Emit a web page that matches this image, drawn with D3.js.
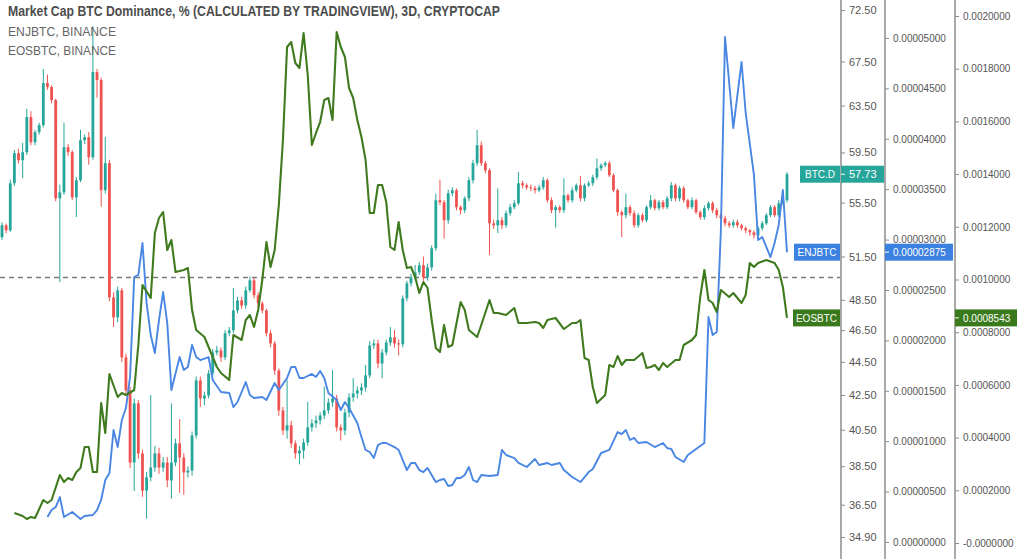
<!DOCTYPE html>
<html><head><meta charset="utf-8">
<script src="https://cdn.jsdelivr.net/npm/d3@7"></script>
<style>html,body{margin:0;padding:0;background:#fff;} svg{display:block;}</style>
</head><body><svg id="c" width="1024" height="559"></svg>
<script>
// ---------- DATA ----------
const titleText = "Market Cap BTC Dominance, % (CALCULATED BY TRADINGVIEW), 3D, CRYPTOCAP";
const legendTexts = ["ENJBTC, BINANCE", "EOSBTC, BINANCE"];

// BTC.D 3D candles (open of each candle = previous close)
const btcOpen0 = 52.9;
const btcClose = [
53.78,53.41,57.01,59.44,58.86,59.52,62.49,60.35,61.20,61.80,
65.51,65.15,63.98,55.83,56.30,59.94,59.52,55.91,57.25,60.52,
60.77,59.11,66.52,65.79,56.46,58.62,48.66,47.33,49.14,44.78,
42.77,38.70,42.01,39.19,37.22,37.91,38.43,39.19,38.43,38.70,
37.75,38.70,39.74,38.97,38.17,38.27,40.18,43.37,42.30,42.47,
43.79,45.08,45.21,44.78,46.30,46.49,47.79,48.46,48.12,49.14,
49.83,48.80,48.26,47.79,46.30,45.65,43.97,41.60,40.46,40.75,
39.74,39.19,39.35,39.79,40.63,40.86,41.03,41.31,41.60,42.06,
42.30,40.63,40.46,41.48,42.36,42.59,42.77,42.95,43.67,45.52,
45.65,44.40,45.08,45.71,46.04,45.65,45.60,48.60,49.62,50.03,
50.38,50.88,50.03,50.73,52.09,55.68,55.53,54.16,56.22,56.46,
55.15,54.92,55.83,57.25,58.62,60.10,58.62,58.05,53.93,53.78,
54.16,53.78,54.69,55.15,55.45,57.01,56.85,56.69,56.62,56.46,
56.69,57.25,55.68,54.92,55.15,54.92,56.07,55.68,56.46,56.85,
55.83,56.85,57.01,57.49,58.21,58.46,58.62,57.65,56.46,54.77,
54.54,55.15,54.69,53.78,54.54,54.16,55.15,55.68,55.07,55.53,
55.15,55.83,56.85,55.83,56.62,55.68,55.15,55.68,54.77,54.39,
55.07,55.45,54.92,54.54,54.31,53.93,53.78,54.01,53.78,53.56,
53.41,53.26,53.04,53.56,53.93,54.54,55.15,54.54,55.45,55.68,
57.73];
const btcHigh = [
54.0,53.9,57.3,59.7,59.8,60.3,63.2,63.0,61.4,62.0,
66.8,66.3,65.3,64.1,56.9,62.0,60.2,59.7,57.5,61.4,
61.0,61.2,70.9,66.8,66.0,60.8,58.9,49.0,49.4,49.3,
45.0,43.0,42.3,42.2,39.4,38.2,42.5,39.6,39.5,39.0,
39.0,42.0,40.0,41.1,39.2,38.5,40.4,43.6,43.6,42.7,
44.0,45.3,45.5,45.4,46.5,46.7,49.3,48.7,48.7,49.4,
50.1,50.0,49.0,48.4,47.9,46.5,45.8,44.1,41.8,43.4,
41.0,39.9,39.6,40.0,42.1,41.1,41.3,41.5,43.0,42.3,
44.0,42.5,40.8,41.7,42.6,43.5,43.0,43.2,44.3,45.8,
45.9,45.9,45.3,45.9,46.7,46.5,45.9,48.8,49.8,50.3,
50.9,51.1,51.5,51.0,52.3,56.2,57.3,55.7,56.5,56.7,
56.6,55.3,56.0,57.5,58.9,61.4,60.4,58.8,58.2,54.2,
56.6,54.4,54.9,55.4,55.7,57.9,57.2,57.0,56.9,56.8,
56.9,57.5,57.4,55.9,55.3,55.3,57.4,56.2,56.7,57.0,
57.6,57.0,57.2,57.7,59.0,58.6,58.8,58.8,57.8,56.6,
54.9,56.2,55.3,54.9,54.7,54.7,55.3,56.1,55.8,55.7,
55.7,56.0,57.1,57.0,56.8,56.8,55.8,55.9,55.8,54.9,
55.3,55.6,55.6,55.1,54.7,54.5,54.1,54.2,54.2,53.9,
53.7,53.5,53.4,53.7,54.1,54.7,55.3,55.3,55.7,56.0,
57.9];
const btcLow = [
52.7,53.2,53.3,56.8,58.6,57.4,59.3,60.1,60.1,61.0,
61.6,64.9,63.7,55.6,49.7,56.1,59.2,55.7,54.4,57.1,
60.2,58.5,58.9,64.2,55.2,56.2,48.4,46.7,47.0,44.5,
42.5,38.4,37.2,38.9,36.9,35.8,37.7,38.2,38.1,38.2,
37.4,36.8,38.5,37.1,37.0,37.9,38.0,40.0,41.8,41.9,
42.3,43.6,44.9,44.5,44.6,46.1,46.3,47.6,47.9,47.9,
49.0,48.6,48.0,47.6,46.1,45.4,43.7,41.3,40.2,40.0,
39.5,38.9,38.6,38.9,39.6,40.4,40.6,40.8,41.1,41.4,
41.8,40.4,39.9,40.2,41.2,42.1,42.3,42.5,42.7,43.5,
45.3,44.1,43.5,44.9,45.5,45.4,44.9,45.4,48.4,49.4,
49.8,50.2,49.8,49.8,50.5,51.9,55.3,52.8,53.9,56.0,
54.9,54.6,54.7,55.6,57.0,58.4,58.4,57.8,51.6,53.5,
53.2,53.5,53.6,54.5,55.0,55.3,56.6,56.5,56.4,56.2,
56.3,56.5,55.5,54.7,53.6,54.7,54.7,55.5,55.5,56.3,
55.6,55.6,56.7,56.8,57.3,58.0,58.3,57.5,56.3,54.5,
52.9,54.3,54.5,53.6,53.6,54.0,54.0,55.0,54.9,54.9,
55.0,55.0,55.6,55.6,55.6,55.5,55.0,55.0,54.6,54.2,
54.2,54.9,54.7,54.3,54.1,53.7,53.6,53.6,53.6,53.4,
53.2,53.0,52.8,52.9,53.4,53.8,54.4,54.4,54.4,55.3,
55.5];

// ENJBTC close line: [candle index, value]
const enjSeries = [
[11,2.48e-6],[12,3.17e-6],[13,3.47e-6],[14,4.46e-6],[15,2.48e-6],[17,2.98e-6],[19,2.28e-6],[20,2.58e-6],[22,2.68e-6],[23,3.17e-6],
[24,4.17e-6],[25,6.15e-6],[26,6.84e-6],[27,11.11e-6],[28,9.42e-6],[29,12.10e-6],[30,13.29e-6],[31,16.37e-6],[32,26.29e-6],[33,26.49e-6],
[34,29.66e-6],[35,23.71e-6],[36,20.53e-6],[37,18.75e-6],[38,22.02e-6],[39,24.80e-6],[40,21.72e-6],[41,15.08e-6],[43,18.35e-6],[44,17.06e-6],
[45,17.36e-6],[46,19.54e-6],[47,18.35e-6],[48,18.05e-6],[50,18.35e-6],[51,16.07e-6],[53,14.88e-6],[55,14.78e-6],[56,13.39e-6],[57,13.89e-6],
[59,15.87e-6],[60,14.58e-6],[61,14.28e-6],[63,14.38e-6],[64,14.09e-6],[66,15.77e-6],[67,15.08e-6],[69,16.27e-6],[70,17.36e-6],[71,17.36e-6],
[72,16.27e-6],[73,16.27e-6],[75,16.67e-6],[76,16.37e-6],[77,16.96e-6],[78,16.27e-6],[79,14.78e-6],[81,14.09e-6],[82,13.09e-6],[83,13.89e-6],
[84,13.29e-6],[86,11.80e-6],[87,10.42e-6],[88,9.13e-6],[89,8.93e-6],[90,8.33e-6],[91,9.62e-6],[92,9.82e-6],[93,9.82e-6],[95,9.42e-6],
[96,9.13e-6],[97,8.13e-6],[98,7.14e-6],[99,7.84e-6],[100,7.84e-6],[101,7.14e-6],[102,6.94e-6],[103,7.34e-6],[105,5.95e-6],[106,6.15e-6],
[107,6.25e-6],[108,5.56e-6],[109,5.65e-6],[110,6.35e-6],[111,6.35e-6],[112,6.65e-6],[113,7.44e-6],[114,6.15e-6],[115,5.95e-6],[116,6.65e-6],
[118,6.55e-6],[120,6.65e-6],[121,9.13e-6],[122,8.63e-6],[124,8.33e-6],[125,7.84e-6],[127,7.44e-6],[129,8.23e-6],[130,7.64e-6],[132,7.84e-6],
[133,7.64e-6],[135,7.84e-6],[136,7.14e-6],[138,6.45e-6],[140,5.95e-6],[142,6.94e-6],[143,7.24e-6],[145,8.83e-6],[147,9.13e-6],[149,10.91e-6],
[150,10.71e-6],[151,11.11e-6],[152,10.12e-6],[153,10.32e-6],[154,9.82e-6],[156,9.92e-6],[158,9.42e-6],[160,9.82e-6],[161,9.32e-6],[162,9.23e-6],
[163,8.43e-6],[165,7.94e-6],[166,8.63e-6],[167,8.93e-6],[170,9.82e-6],[171,22.32e-6],[172,20.53e-6],[173,20.83e-6],[174,30.95e-6],[175,50.10e-6],
[177,41.07e-6],[179,47.62e-6],[180,42.56e-6],[182,36.41e-6],[183,29.96e-6],[184,30.26e-6],[186,28.27e-6],[187,29.66e-6],[188,31.45e-6],[189,34.92e-6],
[190,28.75e-6]];

// EOSBTC close line: [candle index, value]
const eosSeries = [
[3,1.139e-4],[5,1.025e-4],[6,0.911e-4],[7,0.987e-4],[8,0.949e-4],[10,1.632e-4],[11,1.518e-4],[12,1.632e-4],[14,2.581e-4],[15,2.315e-4],
[16,2.467e-4],[17,2.391e-4],[18,2.694e-4],[19,2.846e-4],[20,3.643e-4],[21,3.643e-4],[22,2.694e-4],[23,2.694e-4],[24,5.313e-4],[25,4.175e-4],
[26,6.414e-4],[28,5.541e-4],[29,5.693e-4],[30,5.617e-4],[32,5.806e-4],[33,7.514e-4],[34,9.791e-4],[36,9.298e-4],[37,11.765e-4],[38,12.334e-4],
[39,12.561e-4],[40,11.119e-4],[41,11.499e-4],[42,10.284e-4],[44,10.360e-4],[45,10.436e-4],[46,8.842e-4],[47,8.083e-4],[49,7.818e-4],[50,7.438e-4],
[52,6.679e-4],[53,6.452e-4],[55,6.186e-4],[56,7.894e-4],[58,7.704e-4],[59,8.463e-4],[60,8.653e-4],[61,8.197e-4],[62,8.842e-4],[63,9.981e-4],
[64,11.423e-4],[65,10.474e-4],[66,11.119e-4],[67,12.827e-4],[68,15.294e-4],[69,18.823e-4],[70,19.013e-4],[71,18.216e-4],[72,18.026e-4],[73,19.355e-4],
[74,17.761e-4],[75,15.104e-4],[76,15.560e-4],[77,15.977e-4],[78,16.812e-4],[79,16.888e-4],[80,16.053e-4],[81,19.392e-4],[82,18.823e-4],[83,18.444e-4],
[84,17.267e-4],[85,16.888e-4],[86,16.053e-4],[87,15.408e-4],[88,14.535e-4],[89,12.524e-4],[90,12.524e-4],[91,13.586e-4],[92,13.586e-4],[93,12.941e-4],
[94,11.233e-4],[95,11.119e-4],[96,12.182e-4],[97,11.119e-4],[98,10.436e-4],[99,10.474e-4],[100,10.095e-4],[101,9.488e-4],[102,9.905e-4],[103,9.677e-4],
[104,8.463e-4],[105,7.400e-4],[106,7.248e-4],[107,8.273e-4],[108,7.438e-4],[109,7.514e-4],[111,9.146e-4],[112,8.842e-4],[113,8.083e-4],[115,7.818e-4],
[116,8.273e-4],[118,9.222e-4],[119,8.729e-4],[120,8.729e-4],[122,8.653e-4],[124,8.918e-4],[125,8.349e-4],[127,8.349e-4],[129,8.387e-4],[130,8.349e-4],
[131,8.159e-4],[132,8.463e-4],[134,8.539e-4],[136,8.121e-4],[138,8.349e-4],[139,8.349e-4],[140,8.463e-4],[141,7.021e-4],[142,6.945e-4],[143,5.920e-4],
[144,5.313e-4],[146,5.617e-4],[147,6.755e-4],[148,6.679e-4],[149,7.097e-4],[150,6.755e-4],[151,6.945e-4],[153,6.945e-4],[155,7.211e-4],[156,6.641e-4],
[157,6.679e-4],[158,6.755e-4],[159,6.565e-4],[160,6.831e-4],[161,6.679e-4],[163,6.945e-4],[164,6.945e-4],[165,7.514e-4],[167,7.704e-4],[168,7.894e-4],
[169,9.336e-4],[170,10.360e-4],[171,9.222e-4],[172,9.108e-4],[173,8.767e-4],[174,9.602e-4],[176,9.336e-4],[177,9.488e-4],[179,9.108e-4],[180,9.412e-4],
[181,10.626e-4],[182,10.474e-4],[183,10.626e-4],[185,10.740e-4],[187,10.626e-4],[188,10.360e-4],[189,9.715e-4],[190,8.543e-4]];

// Axis ticks
const btcTicks = [72.5,67.5,63.5,59.5,55.5,51.5,48.5,46.5,44.5,42.5,40.5,38.5,36.5,34.9];
const enjTicks = [0.00005,0.000045,0.00004,0.000035,0.00003,0.000025,0.00002,0.000015,0.00001,0.000005,0];
const eosTicks = [0.002,0.0018,0.0016,0.0014,0.0012,0.001,0.0008,0.0006,0.0004,0.0002,0];
const eosZeroLabel = "-0.0000000";
const dashedLevel = 50.03; // BTC.D reference level (dashed line)

// Last-value labels
const lastLabels = [
  {name:"BTC.D", value:"57.73", v:57.73, scale:"btc", color:"#26a69a"},
  {name:"ENJBTC", value:"0.00002875", v:0.00002875, scale:"enj", color:"#3b82e0"},
  {name:"EOSBTC", value:"0.0008543", v:0.0008543, scale:"eos", color:"#3a7a1c"}
];

// ---------- CHART ----------
const svg = d3.select("#c");
const FONT = "'Liberation Sans', Arial, sans-serif";
const UP = "#26a69a", DOWN = "#ef5350";
const BLUE = "#4a86e3", GREEN = "#3f7b1e";
const AXIS = "#8c8c8c", TXT = "#555";

const x = d3.scaleLinear().domain([0, 190]).range([2, 787]);
const yB = d3.scaleLog().domain([34.9, 72.5]).range([537, 10]);
const yE = d3.scaleLinear().domain([0, 0.00005]).range([542, 38]);
const yO = d3.scaleLinear().domain([0, 0.002]).range([543, 16]);
const scales = {btc: yB, enj: yE, eos: yO};

const candles = btcClose.map((c, i) => ({
  i, o: i === 0 ? btcOpen0 : btcClose[i - 1], c, h: btcHigh[i], l: btcLow[i]
}));

const plot = svg.append("g");
plot.append("line")
  .attr("x1", 0).attr("x2", 840)
  .attr("y1", yB(dashedLevel)).attr("y2", yB(dashedLevel))
  .attr("stroke", "#7a7a7a").attr("stroke-width", 1.5).attr("stroke-dasharray", "5,4");

const cg = plot.append("g");
cg.selectAll("line.wick").data(candles).join("line")
  .attr("class", "wick")
  .attr("x1", d => x(d.i)).attr("x2", d => x(d.i))
  .attr("y1", d => yB(d.h)).attr("y2", d => yB(d.l))
  .attr("stroke", d => d.c >= d.o ? UP : DOWN).attr("stroke-width", 1);
cg.selectAll("rect.body").data(candles).join("rect")
  .attr("class", "body")
  .attr("x", d => x(d.i) - 1.4).attr("width", 2.8)
  .attr("y", d => yB(Math.max(d.o, d.c)))
  .attr("height", d => Math.max(1, Math.abs(yB(d.o) - yB(d.c))))
  .attr("fill", d => d.c >= d.o ? UP : DOWN);

const lineE = d3.line().x(d => x(d[0])).y(d => yE(d[1]));
const lineO = d3.line().x(d => x(d[0])).y(d => yO(d[1]));
plot.append("path").datum(enjSeries).attr("d", lineE)
  .attr("fill", "none").attr("stroke", BLUE).attr("stroke-width", 1.9).attr("stroke-linejoin", "round");
plot.append("path").datum(eosSeries).attr("d", lineO)
  .attr("fill", "none").attr("stroke", GREEN).attr("stroke-width", 2.1).attr("stroke-linejoin", "round");

// Legend texts
svg.append("text").attr("x", 8).attr("y", 16).text(titleText)
  .attr("font-family", FONT).attr("font-size", 14).attr("font-weight", "bold")
  .attr("fill", "#4d4d4d").attr("textLength", 492).attr("lengthAdjust", "spacingAndGlyphs");
legendTexts.forEach((t, k) => {
  svg.append("text").attr("x", 8).attr("y", 36 + k * 19).text(t)
    .attr("font-family", FONT).attr("font-size", 13).attr("fill", "#666")
    .attr("textLength", 108).attr("lengthAdjust", "spacingAndGlyphs");
});

// Axes
function drawAxis(xPos, scale, ticks, fmt, fs) {
  const g = svg.append("g").attr("transform", `translate(${xPos},0)`);
  const ax = d3.axisRight(scale).tickValues(ticks).tickFormat(fmt).tickSize(4).tickPadding(4);
  g.call(ax);
  g.select(".domain").remove();
  g.selectAll(".tick line").attr("stroke", AXIS);
  g.selectAll(".tick text").attr("fill", TXT).attr("font-family", FONT).attr("font-size", fs);
  g.append("line").attr("x1", 0).attr("x2", 0).attr("y1", 0).attr("y2", 559)
    .attr("stroke", AXIS).attr("stroke-width", 1.5);
  return g;
}
drawAxis(841, yB, btcTicks, d3.format(".2f"), 11);
drawAxis(885, yE, enjTicks, d3.format(".8f"), 10);
drawAxis(955, yO, eosTicks, d => d === 0 ? eosZeroLabel : d3.format(".7f")(d), 10);

// Last value labels
const axisX = {btc: 841, enj: 885, eos: 955};
const boxW = {btc: 43, enj: 68, eos: 62};
const nameW = {btc: 40, enj: 46, eos: 47};
lastLabels.forEach(L => {
  const yv = scales[L.scale](L.v);
  const ax = axisX[L.scale];
  svg.append("rect").attr("x", 840 - nameW[L.scale]).attr("y", yv - 8.5)
    .attr("width", nameW[L.scale]).attr("height", 17).attr("fill", L.color);
  svg.append("text").attr("x", 840 - nameW[L.scale] / 2).attr("y", yv + 3.8)
    .attr("text-anchor", "middle").attr("font-family", FONT).attr("font-size", 10)
    .attr("fill", "#fff").text(L.name);
  svg.append("rect").attr("x", ax).attr("y", yv - 8.5)
    .attr("width", boxW[L.scale]).attr("height", 17).attr("fill", L.color);
  svg.append("line").attr("x1", ax).attr("x2", ax + 4).attr("y1", yv).attr("y2", yv)
    .attr("stroke", "#fff").attr("stroke-width", 1);
  svg.append("text").attr("x", ax + 8).attr("y", yv + 3.8)
    .attr("font-family", FONT).attr("font-size", L.scale === "btc" ? 11 : 10)
    .attr("fill", "#fff").text(L.value);
});
</script>
</body></html>
